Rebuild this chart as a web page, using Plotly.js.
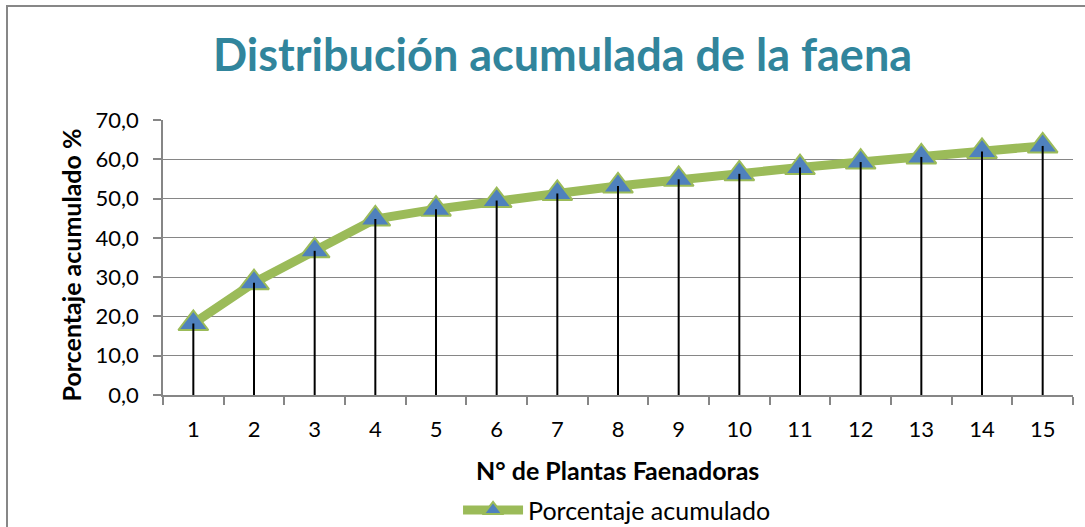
<!DOCTYPE html>
<html>
<head>
<meta charset="utf-8">
<script src="https://cdn.plot.ly/plotly-3.0.1.min.js"></script>
<style>
html,body{margin:0;padding:0;background:#fff;}
#chart{width:1085px;height:527px;}
</style>
</head>
<body>
<div id="chart"></div>
<script>
// Data
var categories = ['1','2','3','4','5','6','7','8','9','10','11','12','13','14','15'];
var porcentajeAcumulado = [18.2, 28.6, 36.7, 44.8, 47.3, 49.5, 51.3, 53.2, 54.9, 56.3, 57.9, 59.3, 60.6, 62.0, 63.4];
var seriesName = 'Porcentaje acumulado';
var chartTitle = 'Distribución acumulada de la faena';
var xTitle = 'N° de Plantas Faenadoras';
var yTitle = 'Porcentaje acumulado %';

var FONT = 'Lato, "Open Sans", sans-serif';
var GRID = '#868686';

var zeros = porcentajeAcumulado.map(function(){return 0;});

var mainTrace = {
  x: categories,
  y: porcentajeAcumulado,
  type: 'scatter',
  mode: 'lines+markers',
  name: seriesName,
  line: {color: '#9BBB59', width: 9},
  marker: {symbol: 'triangle-up', size: 26, color: '#4F81BD', line: {color: '#9BBB59', width: 2}},
  hoverinfo: 'x+y'
};

var dropTrace = {
  x: categories,
  y: porcentajeAcumulado,
  type: 'scatter',
  mode: 'markers',
  marker: {size: 1, opacity: 0},
  showlegend: false,
  hoverinfo: 'skip',
  error_y: {type: 'data', symmetric: false, array: zeros, arrayminus: porcentajeAcumulado,
            width: 0, color: '#000000', thickness: 2}
};

var layout = {
  width: 1085,
  height: 527,
  paper_bgcolor: '#ffffff',
  plot_bgcolor: '#ffffff',
  margin: {l: 163, r: 12, t: 120, b: 132, pad: 0},
  font: {family: FONT, color: '#000000', size: 22},
  title: {
    text: '<b>' + chartTitle + '</b>',
    font: {family: FONT, size: 45, color: '#31859C'},
    xref: 'container', x: 0.5185, xanchor: 'center',
    yref: 'container', y: 0.896, yanchor: 'middle'
  },
  xaxis: {
    type: 'category',
    range: [-0.5, categories.length - 0.5],
    autorange: false,
    automargin: false,
    tickson: 'boundaries',
    ticks: 'outside',
    ticklen: 8,
    tickwidth: 1.5,
    tickcolor: GRID,
    ticklabelstandoff: 14,
    showline: true,
    linecolor: GRID,
    linewidth: 1.5,
    showgrid: false,
    zeroline: false,
    tickfont: {family: FONT, size: 22, color: '#000'},
    fixedrange: true
  },
  yaxis: {
    automargin: false,
    range: [0, 70],
    autorange: false,
    dtick: 10,
    tick0: 0,
    tickformat: '.1f',
    ticks: 'outside',
    ticklen: 8,
    tickwidth: 1.5,
    tickcolor: GRID,
    ticklabelstandoff: 10,
    showline: true,
    linecolor: GRID,
    linewidth: 1.5,
    showgrid: true,
    gridcolor: GRID,
    gridwidth: 1.3,
    zeroline: false,
    tickfont: {family: FONT, size: 22, color: '#000'},
    fixedrange: true
  },
  separators: ',.',
  showlegend: true,
  legend: {
    orientation: 'h',
    xref: 'container', yref: 'container',
    x: 0.5687, xanchor: 'center',
    y: 0.032, yanchor: 'middle',
    font: {family: FONT, size: 25, color: '#000'},
    itemwidth: 60,
    bgcolor: 'rgba(0,0,0,0)'
  },
  annotations: [
    {text: '<b>' + xTitle + '</b>', xref: 'paper', yref: 'paper',
     x: (617.5 - 163) / 910, y: (395 - 470) / 275, xanchor: 'center', yanchor: 'middle',
     showarrow: false, font: {family: FONT, size: 25, color: '#000'}},
    {text: '<b>' + yTitle + '</b>', xref: 'paper', yref: 'paper', textangle: -90,
     x: (70 - 163) / 910, y: (395 - 265.5) / 275, xanchor: 'center', yanchor: 'middle',
     showarrow: false, font: {family: FONT, size: 25, color: '#000'}}
  ],
  shapes: [{
    type: 'rect', xref: 'paper', yref: 'paper',
    x0: (7 - 163) / 910, x1: (1095 - 163) / 910,
    y0: (395 - 540) / 275, y1: (395 - 6) / 275,
    line: {color: '#878787', width: 2}, fillcolor: 'rgba(0,0,0,0)', layer: 'below'
  }]
};

Plotly.newPlot('chart', [mainTrace, dropTrace], layout, {displayModeBar: false});
</script>
</body>
</html>
